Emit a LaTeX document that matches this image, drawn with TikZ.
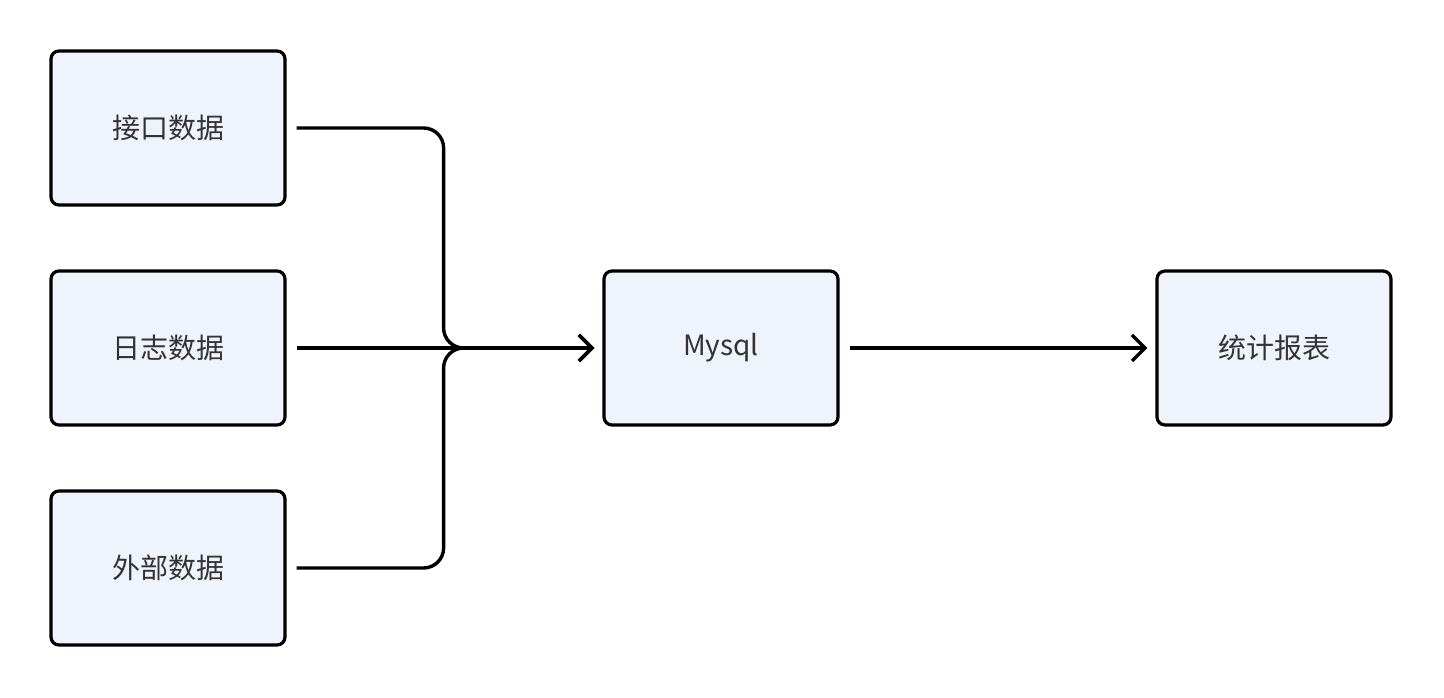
\documentclass[tikz,border=0pt]{standalone}
\usepackage{fontspec}
\newfontfamily\cjk{Noto Sans CJK SC}
\usetikzlibrary{arrows.meta}
\usetikzlibrary{positioning}
\definecolor{boxfill}{RGB}{239,243,252}
\definecolor{txtgray}{RGB}{51,51,51}
\tikzset{
  databox/.style = {draw=black, line width=3.2pt, fill=boxfill, rounded corners=8pt,
                    minimum width=234pt, minimum height=154pt, inner sep=0pt,
                    text=txtgray, font=\cjk\fontsize{28}{32}\selectfont},
  flow/.style = {line width=3.4pt, rounded corners=20pt,
                 -{Straight Barb[length=13pt,width=26pt]}},
}

\begin{document}
\begin{tikzpicture}[x=1pt, y=1pt]

    \useasboundingbox (0,0) rectangle (1444,698); % keeps the margins

    % the three sources on the left
    \node[databox] (api)  at (168,570) {接口数据};
    \node[databox] (log)  at (168,350) {日志数据};
    \node[databox] (ext)  at (168,130) {外部数据};

    % store and report
    \node[databox] (mysql)  at (721,350) {Mysql};
    \node[databox] (report) at (1274,350) {统计报表};

    % sources merge into mysql
    \draw[flow] ([xshift=10pt]api.east) -- ++(147,0) |- ([xshift=-8pt]mysql.west);
    \draw[flow] ([xshift=10pt]ext.east) -- ++(147,0) |- ([xshift=-8pt]mysql.west);
    \draw[flow] ([xshift=10pt]log.east) -- ([xshift=-8pt]mysql.west);

    \draw[flow] ([xshift=10pt]mysql.east) -- ([xshift=-8pt]report.west);

\end{tikzpicture}
\end{document}
